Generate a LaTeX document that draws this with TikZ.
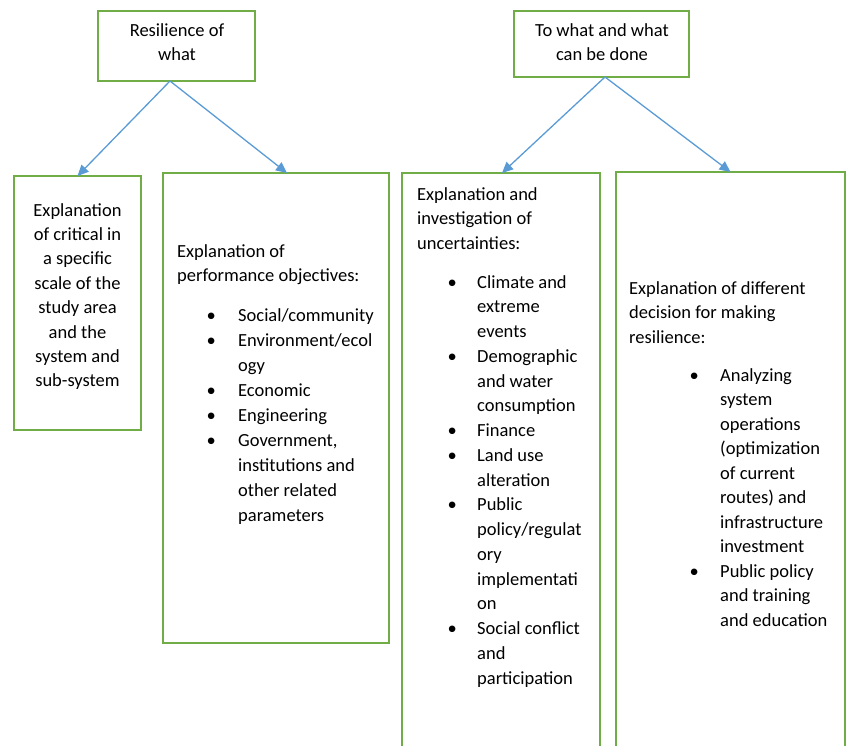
\documentclass[tikz,border=0pt]{standalone}
\usepackage{fontspec}
\setmainfont{Carlito}
\usetikzlibrary{arrows.meta}
\definecolor{boxgreen}{RGB}{112,173,71}
\definecolor{arrowblue}{RGB}{91,155,213}
\newcommand{\bul}{\makebox[0pt]{\textbullet}}
\begin{document}
\begin{tikzpicture}[x=1pt,y=-1pt,
  box/.style={draw=boxgreen,line width=1.6pt,inner sep=0pt,outer sep=0pt,anchor=north west},
  conn/.style={draw=arrowblue,line width=1.3pt,-{Triangle[length=11pt,width=10pt]}},
  txt/.style={inner sep=0pt,font=\fontsize{18.5pt}{#1}\selectfont},
  txt/.default=24.6pt]
\clip (0,0) rectangle (846,745);
% boxes
\node[box,minimum width=157pt,minimum height=70pt] (top1) at (98,11) {};
\node[box,minimum width=175pt,minimum height=66pt] (top2) at (514,11) {};
\node[box,minimum width=127pt,minimum height=254pt] (boxA) at (14,176) {};
\node[box,minimum width=226pt,minimum height=470pt] (boxB) at (163,173) {};
\node[box,minimum width=198pt,minimum height=600pt] (boxC) at (402,173) {};
\node[box,minimum width=229pt,minimum height=600pt] (boxD) at (616,172) {};
% connectors
\draw[conn] ([xshift=-6.5pt]top1.south) -- (boxA.north);
\draw[conn] ([xshift=-6.5pt]top1.south) -- ([xshift=11pt]boxB.north);
\draw[conn] ([xshift=3.5pt]top2.south) -- ([xshift=1pt]boxC.north);
\draw[conn] ([xshift=3.5pt]top2.south) -- (boxD.north);
% texts
\node[txt,anchor=base] (t1) at (177,36) {\begin{tabular}[t]{@{}c@{}}Resilience of\\what\end{tabular}};
\node[txt,anchor=base] (t2) at (602,36) {\begin{tabular}[t]{@{}c@{}}To what and what\\can be done\end{tabular}};
\node[txt=24.4pt,anchor=base] (tA) at (77.5,216) {\begin{tabular}[t]{@{}c@{}}Explanation\\of critical in\\a specific\\scale of the\\study area\\and the\\system and\\sub-system\end{tabular}};
\node[txt,anchor=base west] (tB) at (177,257) {\begin{tabular}[t]{@{}l@{}}Explanation of\\performance objectives:\end{tabular}};
\node[txt=25.1pt,anchor=base west] (lB) at (211,321) {\begin{tabular}[t]{@{}p{27pt}@{}l@{}}
\bul & Social/community\\
\bul & Environment/ecol\\
 & ogy\\
\bul & Economic\\
\bul & Engineering\\
\bul & Government,\\
 & institutions and\\
 & other related\\
 & parameters\end{tabular}};
\node[txt,anchor=base west] (tC) at (417,200) {\begin{tabular}[t]{@{}l@{}}Explanation and\\investigation of\\uncertainties:\end{tabular}};
\node[txt=24.75pt,anchor=base west] (lC) at (452,288) {\begin{tabular}[t]{@{}p{25pt}@{}l@{}}
\bul & Climate and\\
 & extreme\\
 & events\\
\bul & Demographic\\
 & and water\\
 & consumption\\
\bul & Finance\\
\bul & Land use\\
 & alteration\\
\bul & Public\\
 & policy/regulat\\
 & ory\\
 & implementati\\
 & on\\
\bul & Social conflict\\
 & and\\
 & participation\end{tabular}};
\node[txt,anchor=base west] (tD) at (629,294) {\begin{tabular}[t]{@{}l@{}}Explanation of different\\decision for making\\resilience:\end{tabular}};
\node[txt=24.5pt,anchor=base west] (lD) at (694,381) {\begin{tabular}[t]{@{}p{26pt}@{}l@{}}
\bul & Analyzing\\
 & system\\
 & operations\\
 & (optimization\\
 & of current\\
 & routes) and\\
 & infrastructure\\
 & investment\\
\bul & Public policy\\
 & and training\\
 & and education\end{tabular}};
\end{tikzpicture}
\end{document}
